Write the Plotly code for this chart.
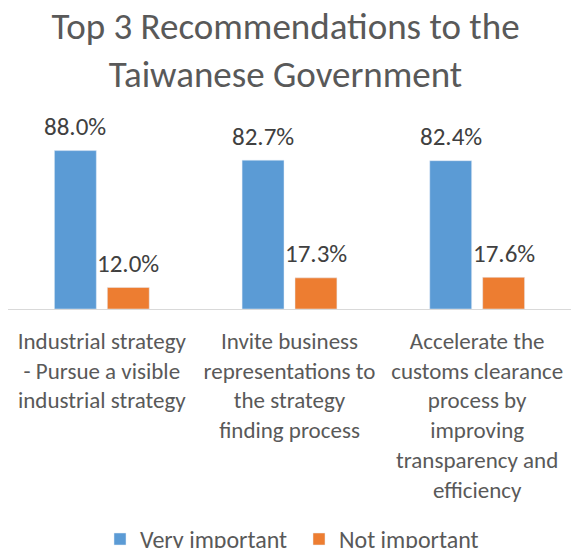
import plotly.graph_objects as go

categories = [
    "Industrial strategy<br>- Pursue a visible<br>industrial strategy",
    "Invite business<br>representations to<br>the strategy<br>finding process",
    "Accelerate the<br>customs clearance<br>process by<br>improving<br>transparency and<br>efficiency",
]
very_important = [88.0, 82.7, 82.4]
not_important = [12.0, 17.3, 17.6]

FONT = "Calibri, Carlito, Lato, sans-serif"
BLUE = "#5B9BD5"
ORANGE = "#ED7D31"

WIDTH, HEIGHT = 571, 548
MARGIN = dict(l=8, r=0, t=129, b=239)
BARGAP, BARGROUPGAP = 0.436, 0.208

fig = go.Figure()
fig.add_trace(go.Bar(name="Very important", x=categories, y=very_important,
                     marker_color=BLUE))
fig.add_trace(go.Bar(name="Not important", x=categories, y=not_important,
                     marker_color=ORANGE))

# value labels centred over each bar of a group
plot_w = WIDTH - MARGIN["l"] - MARGIN["r"]
slot = plot_w / len(categories) * (1 - BARGAP) / 2
for values, shift in ((very_important, -slot / 2), (not_important, slot / 2)):
    for cat, v in zip(categories, values):
        fig.add_annotation(
            x=cat, y=v, xref="x", yref="y",
            text=f"{v:.1f}%", showarrow=False,
            xshift=shift, yshift=24, yanchor="middle", xanchor="center",
            font=dict(family=FONT, size=25, color="#404040"),
        )

fig.update_layout(
    width=WIDTH, height=HEIGHT,
    paper_bgcolor="white", plot_bgcolor="white",
    margin=dict(**MARGIN, autoexpand=False),
    barmode="group", bargap=BARGAP, bargroupgap=BARGROUPGAP,
    font=dict(family=FONT, color="#595959"),
    title=dict(
        text="Top 3 Recommendations to the<br>Taiwanese Government",
        x=0.5, xanchor="center", xref="container",
        y=0.929, yanchor="top", yref="container",
        font=dict(family=FONT, size=37, color="#595959"),
    ),
    legend=dict(
        orientation="h", x=100 / WIDTH, xanchor="left", xref="container",
        y=-1.155, yanchor="top",
        entrywidth=154, entrywidthmode="pixels",
        font=dict(family=FONT, size=24, color="#595959"),
        bgcolor="rgba(0,0,0,0)",
    ),
    showlegend=True,
)
fig.update_xaxes(
    showline=True, linecolor="#D9D9D9", linewidth=1,
    ticks="", showgrid=False,
    tickfont=dict(family=FONT, size=23, color="#595959"),
    ticklabelstandoff=11,
)
fig.update_yaxes(range=[0, 100], visible=False, showgrid=False, zeroline=False)

fig.write_html("out.html")
